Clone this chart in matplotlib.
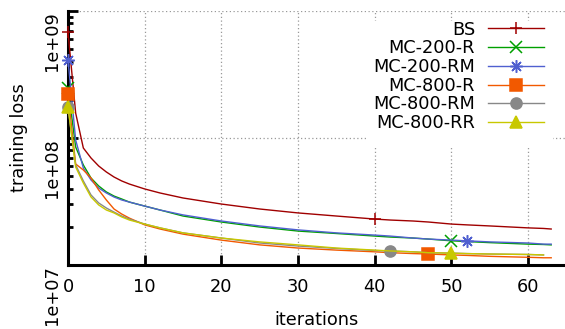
import numpy as np
import matplotlib
matplotlib.use('Agg')
import matplotlib.pyplot as plt
from matplotlib.patches import Rectangle

iters = [0, 1, 2, 3, 4, 5, 6, 7, 8, 10, 12, 15, 20, 25, 30, 35, 40, 42, 45, 47, 50, 52, 55, 60, 62, 63]

bs = [6.83e8, 1.57e8, 8.34e7, 6.96e7, 6.02e7, 5.40e7, 4.93e7, 4.59e7, 4.34e7, 3.97e7, 3.69e7, 3.37e7,
      3.02e7, 2.76e7, 2.57e7, 2.43e7, 2.30e7, 2.26e7, 2.22e7, 2.18e7, 2.10e7, 2.07e7, 2.03e7, 1.96e7,
      1.94e7, 1.92e7]
mc200_r = [2.48e8, 8.49e7, 6.13e7, 4.84e7, 4.19e7, 3.76e7, 3.49e7, 3.31e7, 3.13e7, 2.91e7, 2.71e7, 2.43e7,
           2.18e7, 1.99e7, 1.85e7, 1.77e7, 1.69e7, 1.66e7, 1.63e7, 1.60e7, 1.55e7, 1.53e7, 1.50e7, 1.46e7,
           1.45e7, 1.44e7]
mc200_rm = [4.11e8, 9.64e7, 5.80e7, 4.67e7, 4.04e7, 3.69e7, 3.43e7, 3.25e7, 3.13e7, 2.91e7, 2.71e7, 2.48e7,
            2.22e7, 2.03e7, 1.89e7, 1.79e7, 1.72e7, 1.69e7, 1.63e7, 1.60e7, 1.57e7, 1.55e7, 1.52e7, 1.49e7,
            1.46e7, 1.46e7]
mc800_r = [2.22e8, 6.24e7, 5.60e7, 4.84e7, 3.90e7, 3.25e7, 2.76e7, 2.52e7, 2.34e7, 2.07e7, 1.92e7, 1.75e7,
           1.57e7, 1.44e7, 1.36e7, 1.31e7, 1.27e7, 1.25e7, 1.23e7, 1.22e7, 1.20e7, 1.19e7, 1.17e7, 1.15e7,
           1.14e7, 1.14e7]
mc800_rm = [1.75e8, 6.13e7, 4.59e7, 3.56e7, 3.08e7, 2.81e7, 2.61e7, 2.43e7, 2.30e7, 2.10e7, 1.96e7, 1.79e7,
            1.63e7, 1.49e7, 1.41e7, 1.35e7, 1.30e7, 1.29e7, 1.27e7, 1.25e7, 1.24e7, 1.23e7, 1.22e7, 1.21e7,
            1.20e7, np.nan]
mc800_rr = [1.75e8, 5.91e7, 4.42e7, 3.43e7, 2.97e7, 2.71e7, 2.57e7, 2.39e7, 2.26e7, 2.10e7, 1.96e7, 1.79e7,
            1.63e7, 1.52e7, 1.44e7, 1.36e7, 1.31e7, 1.29e7, 1.27e7, 1.25e7, 1.24e7, 1.23e7, 1.22e7, 1.21e7,
            1.20e7, np.nan]

labels = ['BS', 'MC-200-R', 'MC-200-RM', 'MC-800-R', 'MC-800-RM', 'MC-800-RR']
colors = ['#a00000', '#00a000', '#5060d0', '#f25900', '#888888', '#c8c800']
markers = ['+', 'x', (8, 2, 0), 's', 'o', '^']
sizes = [9, 8, 9, 8, 8, 8]
mark_at = [40, 50, 52, 47, 42, 50]   # iteracion del segundo marcador

plt.rcParams['font.family'] = 'DejaVu Sans'
fs = 12.8

fig = plt.figure(figsize=(5.65, 3.29), dpi=100)
ax = fig.add_axes([68 / 565, 1 - 265 / 329, 497 / 565, 254 / 329])

series = [bs, mc200_r, mc200_rm, mc800_r, mc800_rm, mc800_rr]
for data, lab, c, m, s, k in zip(series, labels, colors, markers, sizes, mark_at):
    ax.plot(iters, data, color=c, lw=1.0, label=lab, marker=m, markersize=s,
            markevery=[0, iters.index(k)], markeredgewidth=1.1, clip_on=False, zorder=3)

ax.set_yscale('log')
ax.set_xlim(0, 64.8)
ax.set_ylim(1e7, 1e9)

ax.set_xticks([0, 10, 20, 30, 40, 50, 60])
ax.set_yticks([1e7, 1e8, 1e9], labels=['1e+07', '1e+08', '1e+09'])
for lbl in ax.get_yticklabels():
    lbl.set_rotation(90)
    lbl.set_va('top')

ax.tick_params(axis='both', which='major', direction='in', length=7, width=2.0,
               labelsize=fs, color='black')
ax.tick_params(axis='x', pad=9)
ax.tick_params(axis='y', pad=5)
ax.tick_params(axis='y', which='minor', direction='in', length=3.6, width=2.0)
ax.tick_params(axis='x', which='minor', bottom=False)

for side in ['top', 'right']:
    ax.spines[side].set_visible(False)
for side in ['left', 'bottom']:
    ax.spines[side].set_linewidth(2.2)

ax.set_axisbelow(True)
ax.grid(True, which='major', color='#999999', linestyle=(0, (1, 2)), linewidth=0.9)

ax.set_xlabel('iterations', fontsize=fs, labelpad=11)
ax.set_ylabel('training loss', fontsize=fs, labelpad=11)

# fondo blanco de la leyenda tapando la rejilla
ax.add_patch(Rectangle((368 / 565, 1 - 148 / 329), 185 / 565, 127 / 329,
                       transform=fig.transFigure, facecolor='white', edgecolor='none', zorder=1))

ax.legend(loc='upper right', bbox_to_anchor=(544 / 565, 1 - 20.6 / 329), bbox_transform=fig.transFigure,
          frameon=False, fontsize=fs, markerfirst=False, handlelength=3.15, handletextpad=0.73,
          labelspacing=0.04, borderpad=0, borderaxespad=0)

fig.savefig('out.png', dpi=100)
